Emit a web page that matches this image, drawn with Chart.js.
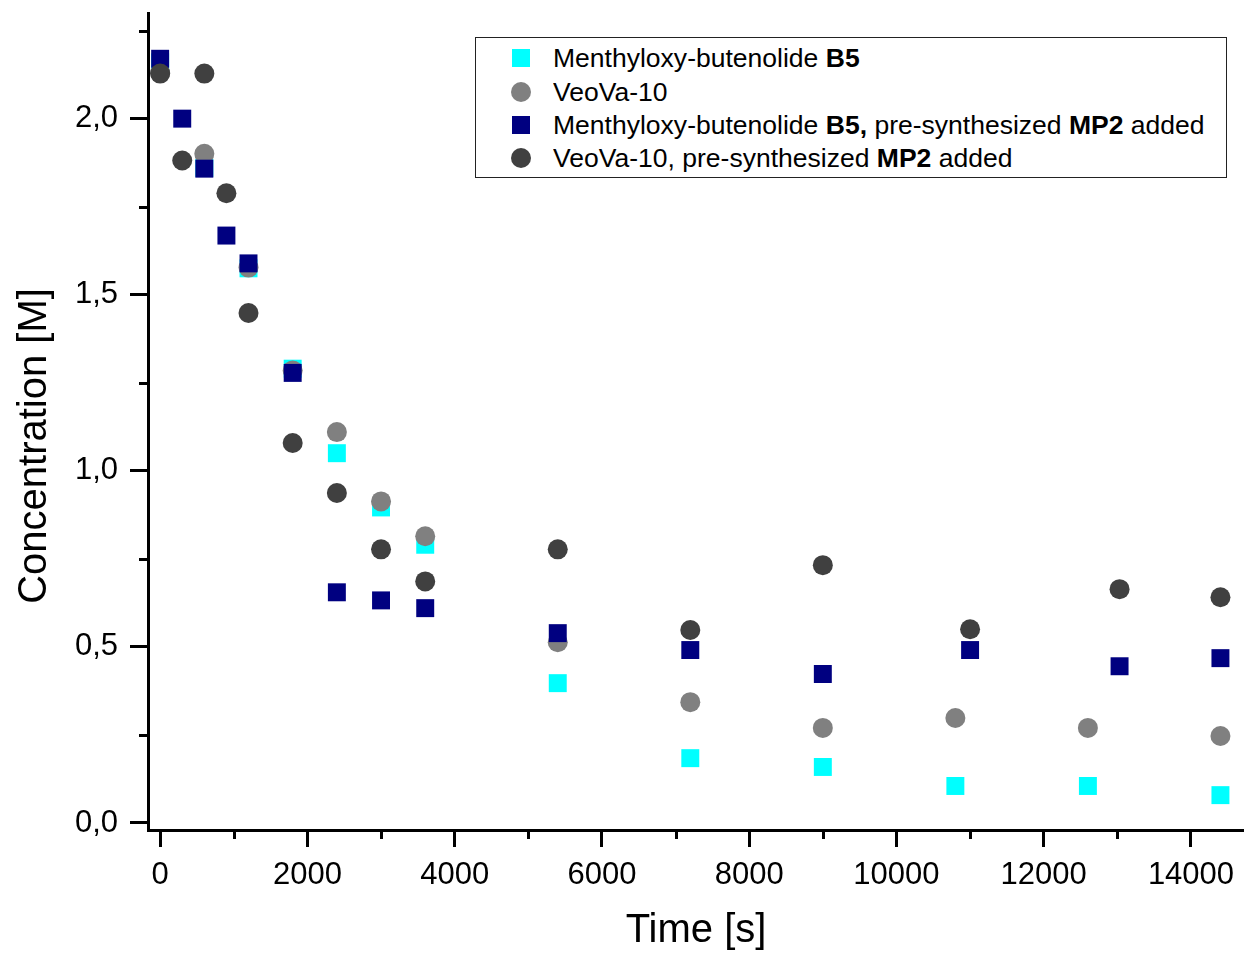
<!DOCTYPE html>
<html>
<head>
<meta charset="utf-8">
<script src="https://cdn.jsdelivr.net/npm/chart.js@4"></script>
<style>
  html, body { margin: 0; padding: 0; background: #fff; }
  #wrap { position: relative; width: 1244px; height: 955px; }
  #legend {
    position: absolute; left: 475px; top: 37px; width: 752px; height: 141px;
    box-sizing: border-box; border: 1.5px solid #222; background: #fff;
    font-family: "Liberation Sans", Arial, sans-serif; font-size: 26px; color: #000;
  }
  .legend-row { position: absolute; left: 0; height: 30px; line-height: 30px; white-space: nowrap; }
  .legend-mark { position: absolute; left: 36px; top: 6px; width: 18px; height: 18px; }
  .legend-mark.circle { left: 35px; top: 5px; width: 20px; height: 20px; border-radius: 50%; }
  .legend-text { position: absolute; left: 77px; top: 0; transform: scaleX(1.02); transform-origin: left center; }
</style>
</head>
<body>
<div id="wrap">
  <canvas id="chart" width="1244" height="955"></canvas>
  <div id="legend"></div>
</div>
<script>
// ── DATA ───────────────────────────────────────────────────────────────
const LEGEND_LABELS = [
  'Menthyloxy-butenolide <b>B5</b>',
  'VeoVa-10',
  'Menthyloxy-butenolide <b>B5,</b> pre-synthesized <b>MP2</b> added',
  'VeoVa-10, pre-synthesized <b>MP2</b> added',
];
const COLORS = ['#00ffff', '#808080', '#000080', '#404040'];
const SHAPES = ['rect', 'circle', 'rect', 'circle'];

// time points (s)
const TIME_A = [0, 600, 1200, 1800, 2400, 3000, 3600, 5400, 7200, 9000, 10800, 12600, 14400];
const TIME_B = [0, 300, 600, 900, 1200, 1800, 2400, 3000, 3600, 5400, 7200, 9000, 11000, 13030, 14400];

// concentrations (M)
const B5       = [2.16, 1.86, 1.575, 1.29, 1.05, 0.896, 0.79, 0.397, 0.184, 0.159, 0.105, 0.105, 0.079];
const VEOVA    = [2.13, 1.90, 1.577, 1.285, 1.11, 0.913, 0.814, 0.513, 0.343, 0.27, 0.298, 0.27, 0.247];
const B5_MP2   = [2.17, 2.0, 1.858, 1.668, 1.589, 1.278, 0.655, 0.632, 0.61, 0.539, 0.491, 0.423, 0.491, 0.445, 0.468];
const VEOVA_MP2= [2.128, 1.881, 2.128, 1.788, 1.448, 1.079, 0.937, 0.777, 0.686, 0.777, 0.548, 0.732, 0.55, 0.664, 0.641];

const X_TICKS = [0, 2000, 4000, 6000, 8000, 10000, 12000, 14000];
const X_MINOR = [1000, 3000, 5000, 7000, 9000, 11000, 13000];
const Y_TICKS = [0, 0.5, 1.0, 1.5, 2.0];
const Y_MINOR = [0.25, 0.75, 1.25, 1.75, 2.25];

const FONT = '"Liberation Sans", Arial, sans-serif';

// ── HELPERS ────────────────────────────────────────────────────────────
const toPoints = (xs, ys) => xs.map((x, i) => ({ x, y: ys[i] }));

function makeSet(idx, xs, ys, order) {
  const rect = SHAPES[idx] === 'rect';
  return {
    label: LEGEND_LABELS[idx].replace(/<[^>]+>/g, ''),
    data: toPoints(xs, ys),
    pointStyle: SHAPES[idx],
    pointRadius: rect ? 12.7 : 10,
    pointHoverRadius: rect ? 12.7 : 10,
    backgroundColor: COLORS[idx],
    borderColor: COLORS[idx],
    borderWidth: 0,
    order,
  };
}

// ── MINOR TICKS + Y TITLE ──────────────────────────────────────────────
const extras = {
  id: 'extras',
  afterDraw(chart) {
    const { ctx, chartArea, scales: { x, y } } = chart;
    ctx.save();
    ctx.strokeStyle = '#000';
    ctx.lineWidth = 3;
    ctx.beginPath();
    X_MINOR.forEach(v => {
      const px = Math.round(x.getPixelForValue(v)) + 0.5;
      ctx.moveTo(px, chartArea.bottom);
      ctx.lineTo(px, chartArea.bottom + 9);
    });
    Y_MINOR.forEach(v => {
      const py = Math.round(y.getPixelForValue(v)) + 0.5;
      ctx.moveTo(chartArea.left - 9, py);
      ctx.lineTo(chartArea.left, py);
    });
    ctx.stroke();

    // y axis title
    ctx.translate(35, 446);
    ctx.rotate(-Math.PI / 2);
    ctx.fillStyle = '#000';
    ctx.font = `40px ${FONT}`;
    ctx.textAlign = 'center';
    ctx.textBaseline = 'middle';
    ctx.fillText('Concentration [M]', 0, 0);
    ctx.restore();
  }
};

// ── CHART ──────────────────────────────────────────────────────────────
new Chart(document.getElementById('chart'), {
  type: 'scatter',
  data: {
    datasets: [
      makeSet(0, TIME_A, B5, 4),
      makeSet(1, TIME_A, VEOVA, 3),
      makeSet(2, TIME_B, B5_MP2, 2),
      makeSet(3, TIME_B, VEOVA_MP2, 1),
    ]
  },
  options: {
    responsive: false,
    animation: false,
    devicePixelRatio: 1,
    layout: { autoPadding: false, padding: { top: 13, right: 0, bottom: 0, left: 0 } },
    plugins: { legend: { display: false }, tooltip: { enabled: false } },
    scales: {
      x: {
        type: 'linear',
        min: -165,
        max: 14720,
        border: { display: true, color: '#000', width: 3 },
        grid: { drawOnChartArea: false, drawTicks: true, tickLength: 17, tickWidth: 3, tickColor: '#000' },
        ticks: {
          autoSkip: false,
          color: '#000',
          font: { family: FONT, size: 31 },
          padding: 10,
          maxRotation: 0,
          callback: v => String(v),
        },
        afterBuildTicks: s => { s.ticks = X_TICKS.map(value => ({ value })); },
        title: { display: true, text: 'Time [s]', color: '#000', font: { family: FONT, size: 40 }, padding: 0 },
        afterFit: s => { s.height = 125; s.paddingLeft = 0; s.paddingRight = 0; },
      },
      y: {
        type: 'linear',
        min: -0.02,
        max: 2.3,
        border: { display: true, color: '#000', width: 3 },
        grid: { drawOnChartArea: false, drawTicks: true, tickLength: 18, tickWidth: 3, tickColor: '#000' },
        ticks: {
          autoSkip: false,
          color: '#000',
          font: { family: FONT, size: 31 },
          padding: 12,
          callback: v => v.toFixed(1).replace('.', ','),
        },
        afterBuildTicks: s => { s.ticks = Y_TICKS.map(value => ({ value })); },
        afterFit: s => { s.width = 148; s.paddingTop = 0; s.paddingBottom = 0; },
      }
    }
  },
  plugins: [extras]
});

// ── LEGEND (html) ──────────────────────────────────────────────────────
const ROW_Y = [21, 55, 88, 121];
document.getElementById('legend').innerHTML = LEGEND_LABELS.map((lab, i) => `
  <div class="legend-row" style="top:${ROW_Y[i] - 16}px">
    <span class="legend-mark ${SHAPES[i] === 'circle' ? 'circle' : ''}" style="background:${COLORS[i]}"></span>
    <span class="legend-text">${lab}</span>
  </div>
`).join('');
</script>
</body>
</html>
